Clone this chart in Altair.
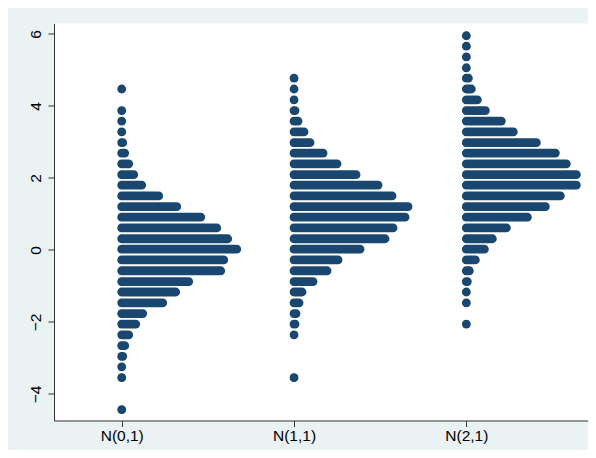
import altair as alt
import pandas as pd

# Shared bin centres (y values) of the dot plot rows
bins = [-4.44, -4.14, -3.85, -3.55, -3.25, -2.96, -2.66, -2.36, -2.06, -1.77,
        -1.47, -1.17, -0.88, -0.58, -0.28, 0.02, 0.31, 0.61, 0.91, 1.20,
        1.50, 1.80, 2.09, 2.39, 2.69, 2.98, 3.28, 3.58, 3.87, 4.17,
        4.47, 4.77, 5.06, 5.36, 5.66, 5.95]

groups = ["N(0,1)", "N(1,1)", "N(2,1)"]

# Number of dots in each bin, per group (aligned with bins)
counts_n01 = [1, 0, 0, 1, 1, 2, 4, 8, 15, 22,
              42, 55, 68, 100, 103, 116, 107, 96, 80, 56,
              38, 21, 13, 8, 4, 2, 1, 1, 1, 0,
              1, 0, 0, 0, 0, 0]
counts_n11 = [0, 0, 0, 1, 0, 0, 0, 1, 2, 3,
              6, 9, 20, 34, 45, 67, 92, 100, 112, 115,
              99, 85, 63, 44, 30, 17, 11, 5, 2, 1,
              1, 1, 0, 0, 0, 0]
counts_n21 = [0, 0, 0, 0, 0, 0, 0, 0, 1, 0,
              1, 1, 2, 4, 10, 19, 27, 41, 62, 80,
              95, 111, 111, 101, 90, 71, 48, 36, 20, 12,
              6, 3, 1, 1, 1, 1]

all_counts = [counts_n01, counts_n11, counts_n21]

DOTS_PER_GROUP = 172.3  # horizontal dot step relative to group spacing

rows = []
for gi, (g, cs) in enumerate(zip(groups, all_counts)):
    for b, c in zip(bins, cs):
        if c > 0:
            rows.append({"group": g, "gpos": gi, "y": b, "count": c,
                         "xend": gi + (c - 1) / DOTS_PER_GROUP})
df = pd.DataFrame(rows)

navy = "#1A476F"
xscale = alt.Scale(domain=[-0.393, 2.706], nice=False, zero=False)
yscale = alt.Scale(domain=[-4.74, 6.29], nice=False, zero=False)

xaxis = alt.Axis(values=[0, 1, 2], title="", grid=False,
                 labelExpr="['N(0,1)','N(1,1)','N(2,1)'][datum.value]",
                 tickSize=6, labelPadding=2, labelFontSize=15.5,
                 labelFont="Liberation Sans", labelColor="black",
                 domainColor="#333333", tickColor="#333333")
yaxis = alt.Axis(values=[-4, -2, 0, 2, 4, 6], title="", grid=False,
                 tickSize=6, labelPadding=8, labelFontSize=15.5,
                 labelAngle=270, labelAlign="center", labelBaseline="alphabetic",
                 labelFont="Liberation Sans", labelColor="black",
                 domainColor="#333333", tickColor="#333333")

base = alt.Chart(df)

bars = base.mark_rule(color=navy, strokeWidth=8.8, strokeCap="round").encode(
    x=alt.X("gpos:Q", scale=xscale, axis=xaxis),
    x2="xend:Q",
    y=alt.Y("y:Q", scale=yscale, axis=yaxis),
)
dots = base.mark_circle(color=navy, size=60, opacity=1).encode(
    x=alt.X("gpos:Q", scale=xscale),
    y=alt.Y("y:Q", scale=yscale),
)

chart = (bars + dots).properties(
    width=534, height=397,
    autosize=alt.AutoSizeParams(type="none"),
    padding={"left": 46, "top": 15.5, "right": 0, "bottom": 29.5},
    background="#EAF2F3",
).configure_view(fill="white", strokeWidth=0)

chart.save("out.html", embed_options={"renderer": "svg", "actions": False})
